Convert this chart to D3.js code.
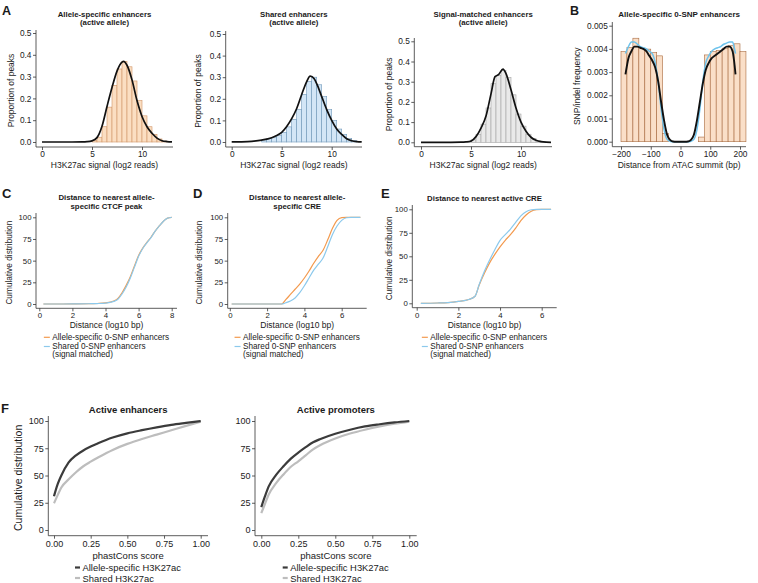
<!DOCTYPE html>
<html><head><meta charset="utf-8">
<script src="https://cdn.jsdelivr.net/npm/d3@7"></script>
<style>body{margin:0;background:#fff} svg{font-family:"Liberation Sans",Arial,Helvetica,sans-serif}</style>
</head><body><svg id="c" width="758" height="583"></svg>
<script>
// ---------- DATA ----------
// Panel A histograms (bin starts, bin width 0.5) and density curves
const aBinWidth = 0.5;
const a1BinStarts = [5,5.5,6,6.5,7,7.5,8,8.5,9,9.5,10,10.5,11,11.5,12];
const a1BinValues = [0.006,0.022,0.07,0.16,0.26,0.335,0.37,0.345,0.28,0.19,0.12,0.07,0.035,0.014,0.004];
const a1CurveX = [0,1,2,3,4,4.5,5,5.5,6,6.5,7,7.5,8,8.15,8.5,9,9.5,10,10.5,11,11.5,12,12.5,13];
const a1CurveY = [0,0,0,0,0.0005,0.0015,0.005,0.02,0.072,0.163,0.25,0.325,0.366,0.37,0.352,0.285,0.19,0.117,0.07,0.04,0.018,0.006,0.002,0.0005];

const a2BinStarts = [3,3.5,4,4.5,5,5.5,6,6.5,7,7.5,8,8.5,9,9.5,10,10.5,11,11.5,12];
const a2BinValues = [0.01,0.015,0.02,0.03,0.045,0.07,0.105,0.15,0.22,0.28,0.30,0.265,0.21,0.15,0.10,0.06,0.035,0.016,0.006];
const a2CurveX = [0,1,2,3,4,4.5,5,5.5,6,6.5,7,7.5,7.85,8.25,8.5,9,9.5,10,10.5,11,11.5,12,12.5,13];
const a2CurveY = [0.0005,0.001,0.003,0.009,0.02,0.03,0.045,0.072,0.108,0.155,0.22,0.28,0.305,0.293,0.27,0.21,0.15,0.10,0.06,0.035,0.015,0.006,0.002,0.0005];

const a3BinStarts = [5,5.5,6,6.5,7,7.5,8,8.5,9,9.5,10,10.5,11,11.5,12];
const a3BinValues = [0.012,0.04,0.09,0.17,0.29,0.33,0.355,0.32,0.235,0.14,0.08,0.04,0.018,0.007,0.002];
const a3CurveX = [0,1,2,3,4,4.5,5,5.5,6,6.5,7,7.4,7.75,8.2,8.5,9,9.5,10,10.5,11,11.5,12,12.5,13];
const a3CurveY = [0,0,0,0,0.0005,0.002,0.006,0.028,0.07,0.13,0.24,0.325,0.335,0.362,0.34,0.26,0.17,0.10,0.055,0.025,0.01,0.003,0.0005,0];

// Panel B histogram (bin width 20 bp) and two smoothed curves
const bBinWidth = 20;
const bBinStarts = [-200,-180,-160,-140,-120,-100,-80,-60,-40,-20,0,20,40,60,80,100,120,140,160,180,200];
const bBinValues = [0.00388,0.00406,0.00446,0.00403,0.00399,0.00384,0.0037,0.00035,0,0,0,0,0,0.0002,0.00374,0.00388,0.00393,0.00403,0.00414,0.00422,0.00388];
const bCurveX = [-185,-175,-165,-155,-145,-135,-125,-115,-105,-95,-85,-75,-65,-55,-45,-35,-25,-15,0,15,25,35,45,55,65,75,85,95,105,115,125,135,145,155,165,175,180,185];
const bBlackY = [0.0029,0.0036,0.0039,0.0041,0.0041,0.00405,0.0040,0.0039,0.0037,0.0035,0.0032,0.0026,0.0017,0.0009,0.0003,0.00008,0.00001,0,0,0,0.00001,0.00008,0.0003,0.0009,0.0017,0.0025,0.0031,0.0034,0.0036,0.0037,0.0038,0.0039,0.0040,0.0041,0.0041,0.0039,0.0035,0.0029];
const bBlueY = [0.0038,0.0041,0.0043,0.0043,0.0042,0.0041,0.00405,0.0040,0.0039,0.0038,0.0034,0.0026,0.0014,0.0005,0.0001,0.00002,0,0,0,0,0,0.00002,0.0001,0.0005,0.0014,0.0026,0.0034,0.0037,0.0039,0.0040,0.00405,0.0041,0.0042,0.00425,0.0043,0.0043,0.0041,0.0038];

// Panels C, D, E cumulative distributions (%)
const cX = [0.25,1,2,3,3.5,4,4.5,4.75,5,5.25,5.5,5.75,6,6.25,6.5,6.75,7,7.25,7.5,7.75,8];
const cOrange = [0,0,0.1,0.3,0.6,1.2,3.5,6.5,13,21.5,31.5,44,56,64.5,71,77,84,90,95.5,99,100];
const cBlue = [0,0,0.1,0.3,0.5,1,3,5.5,11.5,19.5,30,42.5,55,64,70.5,76.5,84,90,95.5,99,100];

const dX = [0.1,1,2,2.78,3,3.25,3.5,3.75,4,4.25,4.5,4.75,5,5.25,5.5,5.75,6,6.25,6.5,7];
const dOrange = [0,0,0,0,5,11,17,23,30,38,47,55,62,74,87,96.5,99.7,100,100,100];
const dBlue = [0,0,0,0,1.5,3.5,7,13,21,30,39,46,53,66,80,90,96.5,99.5,100,100];

const eX = [0.2,1,1.5,2,2.5,2.8,3,3.25,3.5,3.75,4,4.25,4.5,4.75,5,5.25,5.5,5.75,6,6.45];
const eBlue = [0,0.3,0.8,2,4,7.5,20,34,46,57,67,73,79,86,93,97.5,99.5,100,100,100];
const eOrange = [0,0.3,0.8,2,4,7.5,19.5,32,43,52,60,67,73,80,88,94,98,99.6,100,100];

// Panel F cumulative distributions of phastCons (%)
const fX = [0,0.025,0.05,0.1,0.15,0.2,0.25,0.3,0.4,0.5,0.6,0.7,0.8,0.9,1.0];
const fEnhAlleleSpecific = [31,42,50,62,68.5,73,76.5,79.5,84.8,88.7,91.6,94.2,96.5,98.3,100];
const fEnhShared = [24.5,32,39,46.5,53,58.5,62.7,66.5,73.5,79,83.5,87.5,91.5,95.5,99.4];
const pX = [0,0.025,0.05,0.1,0.15,0.2,0.25,0.3,0.35,0.4,0.5,0.6,0.7,0.8,0.9,1.0];
const pAlleleSpecific = [21,31,40,50.5,58.5,65.5,71,76,80.5,83.5,88.3,92,95,97,98.7,100];
const pShared = [15.5,24,32.5,43,51,58,63,68.5,74,78,84,88.5,92,95,97.5,99.5];

// Tick values
const aXTicks = [0,5,10];
const aYTicks = [0,0.1,0.2,0.3,0.4,0.5];
const bXTicks = [-200,-100,0,100,200];
const bYTicks = [0,0.001,0.002,0.003,0.004,0.005];
const cXTicks = [0,2,4,6,8];
const deXTicks = [0,2,4,6];
const cumYTicks = [0,25,50,75,100];
const fXTicks = [0,0.25,0.5,0.75,1];

// ---------- DRAWING ----------
const svg = d3.select('#c');
const INK = '#1a1a1a';
const ORANGE = '#F39A4E', BLUE = '#8CC9EC';
const DARK = '#3b3b3b', LIGHT = '#bdbdbd';

function txt(x, y, s, o = {}) {
  const t = svg.append('text').attr('x', x).attr('y', y).text(s)
    .attr('font-size', o.size || 8).attr('fill', o.fill || INK)
    .attr('font-weight', o.weight || 'normal')
    .attr('text-anchor', o.anchor || 'middle');
  if (o.rotate) t.attr('transform', `rotate(-90,${x},${y})`);
  return t;
}

function panel(o) {
  const x = d3.scaleLinear().domain([o.xCal[0], o.xCal[1]]).range([o.xCal[2], o.xCal[3]]);
  const y = d3.scaleLinear().domain([o.yCal[0], o.yCal[1]]).range([o.yCal[2], o.yCal[3]]);
  const g = svg.append('g');
  const marks = g.append('g');
  const b = o.box;
  const ax = g.append('g');
  ax.append('line').attr('x1', b.l).attr('x2', b.l).attr('y1', b.t).attr('y2', b.b).attr('stroke', '#333').attr('stroke-width', 0.8);
  ax.append('line').attr('x1', b.l).attr('x2', b.r).attr('y1', b.b).attr('y2', b.b).attr('stroke', '#333').attr('stroke-width', 0.8);
  const xa = ax.append('g').attr('transform', `translate(0,${b.b})`)
    .call(d3.axisBottom(x).tickValues(o.xTicks).tickFormat(o.xFmt).tickSize(3).tickPadding(1.5));
  const ya = ax.append('g').attr('transform', `translate(${b.l},0)`)
    .call(d3.axisLeft(y).tickValues(o.yTicks).tickFormat(o.yFmt).tickSize(3).tickPadding(1.5));
  [xa, ya].forEach(s => {
    s.select('.domain').remove();
    s.attr('font-family', null).attr('font-size', o.tickSize);
    s.selectAll('line').attr('stroke', '#333').attr('stroke-width', 0.8);
    s.selectAll('text').attr('fill', INK);
  });
  return { g: marks, x, y, b };
}

function hist(p, starts, vals, bw, fill, stroke) {
  p.g.selectAll(null).data(starts.map((s, i) => [s, vals[i]])).enter().append('rect')
    .attr('x', d => p.x(d[0])).attr('width', d => p.x(d[0] + bw) - p.x(d[0]))
    .attr('y', d => p.y(d[1])).attr('height', d => p.y(0) - p.y(d[1]))
    .attr('fill', fill).attr('stroke', stroke).attr('stroke-width', 0.6);
}

function curve(p, xs, ys, color, w) {
  const line = d3.line().x(d => p.x(d[0])).y(d => p.y(d[1])).curve(d3.curveMonotoneX);
  p.g.append('path').attr('d', line(xs.map((v, i) => [v, ys[i]])))
    .attr('fill', 'none').attr('stroke', color).attr('stroke-width', w)
    .attr('stroke-linejoin', 'round').attr('stroke-linecap', 'butt');
}

const f1 = d3.format('.1f'), f3 = d3.format('.3f'), f0 = d3.format('d'), f2 = d3.format('.2f');

// ---- Panel A ----
const aPanels = [
  { box: { l: 36, r: 173, t: 30, b: 147 }, xCal: [0, 10, 42, 142], yCal: [0, 0.5, 142, 33],
    starts: a1BinStarts, vals: a1BinValues, cx: a1CurveX, cy: a1CurveY, fill: '#FBDEC2', stroke: '#D09466',
    title: ['Allele-specific enhancers', '(active allele)'], ylx: 13.5 },
  { box: { l: 225.7, r: 362, t: 31, b: 147 }, xCal: [0, 10, 231.7, 331.7], yCal: [0, 0.5, 142, 34],
    starts: a2BinStarts, vals: a2BinValues, cx: a2CurveX, cy: a2CurveY, fill: '#D3E6F6', stroke: '#7198BA',
    title: ['Shared enhancers', '(active allele)'], ylx: 201 },
  { box: { l: 414.3, r: 552, t: 38, b: 146.7 }, xCal: [0, 10, 421, 521], yCal: [0, 0.5, 142.3, 41.3],
    starts: a3BinStarts, vals: a3BinValues, cx: a3CurveX, cy: a3CurveY, fill: '#E9E9E9', stroke: '#A3A3A3',
    title: ['Signal-matched enhancers', '(active allele)'], ylx: 392 }
];
aPanels.forEach(c => {
  const p = panel({ box: c.box, xCal: c.xCal, yCal: c.yCal, xTicks: aXTicks, yTicks: aYTicks, xFmt: f0, yFmt: f1, tickSize: 8.3 });
  hist(p, c.starts, c.vals, aBinWidth, c.fill, c.stroke);
  curve(p, c.cx, c.cy, '#111', 1.7);
  const cxm = (c.box.l + c.box.r) / 2;
  txt(cxm, 16.8, c.title[0], { size: 7.8, weight: 'bold' });
  txt(cxm, 25, c.title[1], { size: 7.8, weight: 'bold' });
  txt(cxm, 168, 'H3K27ac signal (log2 reads)', { size: 8.5 });
  txt(c.ylx, (c.box.t + c.box.b) / 2 + 2, 'Proportion of peaks', { size: 8.5, rotate: true });
});
txt(2, 15, 'A', { size: 12.5, weight: 'bold', anchor: 'start' });

// ---- Panel B ----
{
  const box = { l: 612.3, r: 746, t: 22, b: 146.7 };
  const p = panel({ box, xCal: [-200, 200, 621, 740], yCal: [0, 0.005, 141.7, 25.7], xTicks: bXTicks, yTicks: bYTicks, xFmt: f0, yFmt: f3, tickSize: 8.3 });
  hist(p, bBinStarts, bBinValues, bBinWidth, '#FADFC8', '#A96B40');
  curve(p, bCurveX, bBlueY, '#6EC3EC', 1.5);
  curve(p, bCurveX, bBlackY, '#111', 1.9);
  txt((box.l + box.r) / 2, 17.3, 'Allele-specific 0-SNP enhancers', { size: 8, weight: 'bold' });
  txt((box.l + box.r) / 2, 167.5, 'Distance from ATAC summit (bp)', { size: 8.5 });
  txt(580.5, (box.t + box.b) / 2 + 2, 'SNP/indel frequency', { size: 8.5, rotate: true });
  txt(570, 15, 'B', { size: 12.5, weight: 'bold', anchor: 'start' });
}

// ---- Panels C, D, E ----
function cdeLegend(cx) {
  const g = svg.append('g');
  g.append('line').attr('x1', 0).attr('x2', 6).attr('y1', 337.3).attr('y2', 337.3).attr('stroke', ORANGE).attr('stroke-width', 1.2);
  g.append('line').attr('x1', 0).attr('x2', 6).attr('y1', 346.5).attr('y2', 346.5).attr('stroke', BLUE).attr('stroke-width', 1.2);
  const t = (y, s) => g.append('text').attr('x', 8.5).attr('y', y).text(s).attr('font-size', 8.2).attr('fill', INK);
  t(339.5, 'Allele-specific 0-SNP enhancers');
  t(349, 'Shared 0-SNP enhancers');
  t(356.5, '(signal matched)');
  const w = g.node().getBBox().width;
  g.attr('transform', `translate(${cx - w / 2},0)`);
}
const cdePanels = [
  { box: { l: 36, r: 177, t: 213, b: 308.3 }, xCal: [0, 8, 39.3, 171.7], yCal: [0, 100, 304, 217.3], xTicks: cXTicks,
    xs: cX, o: cOrange, bl: cBlue, title: ['Distance to nearest allele-', 'specific CTCF peak'], ylx: 12.5, lab: 'C', labx: 2 },
  { box: { l: 227.7, r: 366.7, t: 213, b: 308.3 }, xCal: [0, 6, 229.8, 341.7], yCal: [0, 100, 304, 217.3], xTicks: deXTicks,
    xs: dX, o: dOrange, bl: dBlue, title: ['Distance to nearest allele-', 'specific CRE'], ylx: 202.5, lab: 'D', labx: 193 },
  { box: { l: 412.3, r: 556.7, t: 205, b: 307.7 }, xCal: [0, 6, 416.7, 541.7], yCal: [0, 100, 303.3, 209.3], xTicks: deXTicks,
    xs: eX, o: eOrange, bl: eBlue, title: ['Distance to nearest active CRE'], ylx: 392.5, lab: 'E', labx: 381 }
];
cdePanels.forEach(c => {
  const p = panel({ box: c.box, xCal: c.xCal, yCal: c.yCal, xTicks: c.xTicks, yTicks: cumYTicks, xFmt: f0, yFmt: f0, tickSize: 7.8 });
  curve(p, c.xs, c.o, ORANGE, 1.2);
  curve(p, c.xs, c.bl, BLUE, 1.2);
  const cxm = (c.box.l + c.box.r) / 2;
  txt(cxm, c.title[1] ? 200.3 : 201, c.title[0], { size: 7.8, weight: 'bold' });
  if (c.title[1]) txt(cxm, 208.5, c.title[1], { size: 7.8, weight: 'bold' });
  txt(cxm, 328, 'Distance (log10 bp)', { size: 8.5 });
  txt(c.ylx, (c.box.t + c.box.b) / 2 + 2, 'Cumulative distribution', { size: 8.3, rotate: true });
  txt(c.labx, 198, c.lab, { size: 13, weight: 'bold', anchor: 'start' });
  cdeLegend(cxm);
});

// ---- Panel F ----
function fLegend(cx) {
  const g = svg.append('g');
  g.append('line').attr('x1', 0).attr('x2', 5).attr('y1', 567.5).attr('y2', 567.5).attr('stroke', DARK).attr('stroke-width', 2.2);
  g.append('line').attr('x1', 0).attr('x2', 5).attr('y1', 578).attr('y2', 578).attr('stroke', LIGHT).attr('stroke-width', 2.2);
  const t = (y, s) => g.append('text').attr('x', 7.5).attr('y', y).text(s).attr('font-size', 9.4).attr('fill', INK);
  t(571, 'Allele-specific H3K27ac');
  t(581.5, 'Shared H3K27ac');
  const w = g.node().getBBox().width;
  g.attr('transform', `translate(${cx - w / 2},0)`);
}
const fPanels = [
  { box: { l: 48.3, r: 208, t: 416, b: 535.7 }, xCal: [0, 1, 54, 200.7], xs: fX, a: fEnhAlleleSpecific, s: fEnhShared, title: 'Active enhancers', ylab: true },
  { box: { l: 255, r: 416.7, t: 416, b: 535.7 }, xCal: [0, 1, 261.3, 409.3], xs: pX, a: pAlleleSpecific, s: pShared, title: 'Active promoters', ylab: false }
];
fPanels.forEach(c => {
  const p = panel({ box: c.box, xCal: c.xCal, yCal: [0, 100, 530, 421], xTicks: fXTicks, yTicks: cumYTicks, xFmt: f2, yFmt: f0, tickSize: 9 });
  curve(p, c.xs, c.s, LIGHT, 2.2);
  curve(p, c.xs, c.a, DARK, 2.2);
  const cxm = (c.box.l + c.box.r) / 2;
  txt(cxm, 413, c.title, { size: 9.5, weight: 'bold' });
  txt(cxm, 558.5, 'phastCons score', { size: 9.5 });
  if (c.ylab) txt(22, (c.box.t + c.box.b) / 2 + 2, 'Cumulative distribution', { size: 10.5, rotate: true });
  fLegend(cxm);
});
txt(1, 412.5, 'F', { size: 13, weight: 'bold', anchor: 'start' });
</script></body></html>
